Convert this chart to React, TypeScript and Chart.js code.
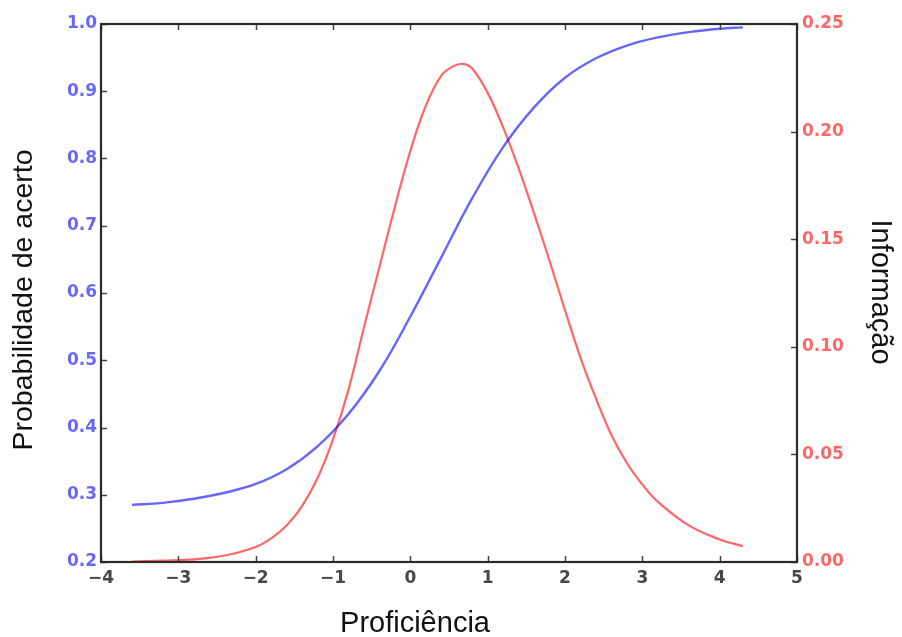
import React, { useEffect, useRef } from "react";
import { Chart, registerables } from "chart.js";

Chart.register(...registerables);

// Probability curve (blue, left axis)
const thetaProb = [-3.6, -3.2, -2.8, -2.4, -2.0, -1.6, -1.2, -0.8, -0.4, 0.0, 0.4, 0.8, 1.2, 1.6, 2.0, 2.4, 2.8, 3.2, 3.6, 4.0, 4.3];
const probValues = [0.285, 0.288, 0.294, 0.303, 0.316, 0.338, 0.372, 0.42, 0.484, 0.565, 0.653, 0.741, 0.817, 0.876, 0.92, 0.949, 0.968, 0.98, 0.988, 0.993, 0.995];

// Information curve (red, right axis)
const thetaInfo = [-3.6, -3.2, -2.8, -2.4, -2.0, -1.8, -1.6, -1.4, -1.2, -1.0, -0.8, -0.6, -0.4, -0.2, 0.0, 0.2, 0.4, 0.55, 0.68, 0.8, 1.0, 1.2, 1.4, 1.6, 1.8, 2.0, 2.2, 2.4, 2.6, 2.8, 3.0, 3.2, 3.6, 4.0, 4.3];
const infoValues = [0.0002, 0.0006, 0.0012, 0.003, 0.007, 0.011, 0.017, 0.026, 0.039, 0.057, 0.08, 0.109, 0.137, 0.165, 0.191, 0.212, 0.226, 0.2303, 0.2315, 0.2293, 0.218, 0.202, 0.183, 0.162, 0.14, 0.117, 0.095, 0.076, 0.059, 0.046, 0.036, 0.028, 0.017, 0.0105, 0.0073];

const xTitle = "Proficiência";
const yLeftTitle = "Probabilidade de acerto";
const yRightTitle = "Informação";

const BLUE = "rgba(0,0,255,0.6)";
const RED = "rgba(255,0,0,0.6)";

const framePlugin = {
  id: "frame",
  afterDraw(chart: any) {
    const ctx = chart.ctx;
    const { left, right, top, bottom } = chart.chartArea;
    ctx.save();
    // inner tick marks
    ctx.strokeStyle = "#444";
    ctx.lineWidth = 1.5;
    const tl = 6;
    const xs = chart.scales.x;
    xs.ticks.forEach((t: any) => {
      const px = Math.round(xs.getPixelForValue(t.value)) + 0.5;
      ctx.beginPath();
      ctx.moveTo(px, bottom);
      ctx.lineTo(px, bottom - tl);
      ctx.moveTo(px, top);
      ctx.lineTo(px, top + tl);
      ctx.stroke();
    });
    const yl = chart.scales.y;
    yl.ticks.forEach((t: any) => {
      const py = Math.round(yl.getPixelForValue(t.value)) + 0.5;
      ctx.beginPath();
      ctx.moveTo(left, py);
      ctx.lineTo(left + tl, py);
      ctx.stroke();
    });
    const yr = chart.scales.y1;
    yr.ticks.forEach((t: any) => {
      const py = Math.round(yr.getPixelForValue(t.value)) + 0.5;
      ctx.beginPath();
      ctx.moveTo(right, py);
      ctx.lineTo(right - tl, py);
      ctx.stroke();
    });
    // frame
    ctx.strokeStyle = "#2a2a2a";
    ctx.lineWidth = 2.2;
    ctx.strokeRect(left, top, right - left, bottom - top);

    // titles
    ctx.fillStyle = "#111";
    ctx.textAlign = "center";
    ctx.textBaseline = "middle";
    ctx.font = "29px 'Liberation Sans', Arial, sans-serif";
    ctx.fillText(xTitle, 415, 624);
    ctx.save();
    ctx.translate(880, 292);
    ctx.rotate(Math.PI / 2);
    ctx.fillText(yRightTitle, 0, 0);
    ctx.restore();
    ctx.font = "28.5px 'Liberation Sans', Arial, sans-serif";
    ctx.save();
    ctx.translate(24, 300);
    ctx.rotate(-Math.PI / 2);
    ctx.fillText(yLeftTitle, 0, 0);
    ctx.restore();
    ctx.restore();
  },
};

export default function App() {
  const ref = useRef<HTMLCanvasElement | null>(null);
  useEffect(() => {
    if (!ref.current) return;
    const tickFont = { family: "'DejaVu Sans', sans-serif", size: 17, weight: "bold" as const };
    const chart = new Chart(ref.current, {
      type: "line",
      data: {
        datasets: [
          {
            label: "Probabilidade",
            data: thetaProb.map((x, i) => ({ x, y: probValues[i] })),
            borderColor: BLUE,
            borderWidth: 2.4,
            pointRadius: 0,
            tension: 0.4,
            yAxisID: "y",
            fill: false,
          },
          {
            label: "Informação",
            data: thetaInfo.map((x, i) => ({ x, y: infoValues[i] })),
            borderColor: RED,
            borderWidth: 2.2,
            pointRadius: 0,
            tension: 0.4,
            yAxisID: "y1",
            fill: false,
          },
        ],
      },
      options: {
        animation: false,
        responsive: false,
        layout: { padding: { top: 24, left: 0, right: 0, bottom: 0 } },
        plugins: { legend: { display: false }, tooltip: { enabled: false } },
        scales: {
          x: {
            type: "linear",
            min: -4,
            max: 5,
            grid: { display: false, drawTicks: false },
            border: { display: false },
            ticks: {
              stepSize: 1,
              padding: 6,
              color: "#474747",
              font: tickFont,
              maxRotation: 0,
              callback: (v: any) => (v < 0 ? "\u2212" + Math.abs(v) : String(v)),
            },
            afterFit: (s: any) => {
              s.height = 75;
            },
          },
          y: {
            type: "linear",
            position: "left",
            min: 0.2,
            max: 1.0,
            grid: { display: false, drawTicks: false },
            border: { display: false },
            ticks: {
              stepSize: 0.1,
              padding: 4,
              color: BLUE,
              font: tickFont,
              callback: (v: any) => Number(v).toFixed(1),
            },
            afterFit: (s: any) => {
              s.width = 101;
            },
          },
          y1: {
            type: "linear",
            position: "right",
            min: 0,
            max: 0.25,
            grid: { display: false, drawTicks: false },
            border: { display: false },
            ticks: {
              stepSize: 0.05,
              padding: 5,
              color: RED,
              font: tickFont,
              callback: (v: any) => Number(v).toFixed(2),
            },
            afterFit: (s: any) => {
              s.width = 105;
            },
          },
        },
      },
      plugins: [framePlugin],
    });
    return () => chart.destroy();
  }, []);
  return (
    <div style={{ position: "fixed", left: 0, top: 0, width: 902, height: 637, background: "#fff" }}>
      <canvas ref={ref} width={902} height={637} style={{ display: "block" }} />
    </div>
  );
}
